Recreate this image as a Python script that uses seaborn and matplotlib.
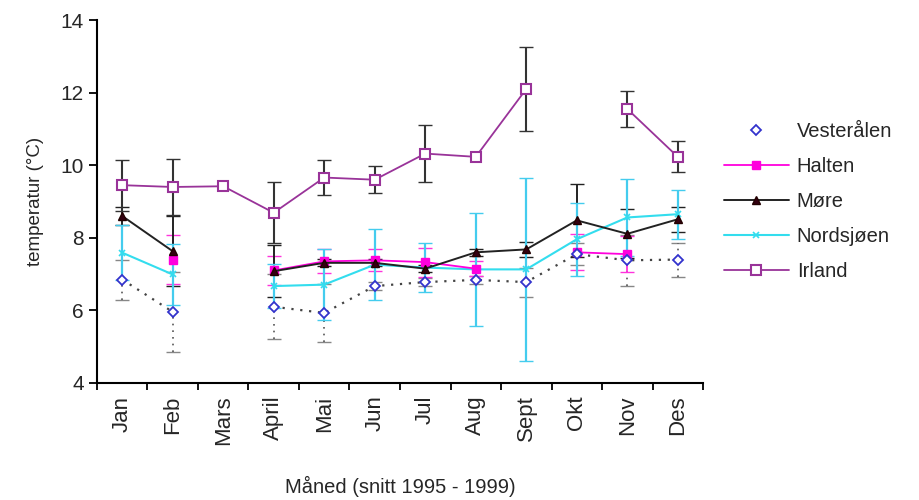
import matplotlib.pyplot as plt
import numpy as np
import seaborn as sns

nan = np.nan

months = ["Jan", "Feb", "Mars", "April", "Mai", "Jun", "Jul", "Aug", "Sept", "Okt", "Nov", "Des"]

vesteralen = [6.85, 5.96, nan, 6.10, 5.93, 6.67, 6.78, 6.84, 6.78, 7.55, 7.38, 7.40]
vesteralen_err = [0.55, 1.10, nan, 0.90, 0.80, 0.10, 0.10, 0.10, 0.40, 0.30, 0.70, 0.47]

halten = [nan, 7.40, nan, 7.10, 7.35, 7.38, 7.33, 7.15, nan, 7.60, 7.55, nan]
halten_err = [nan, 0.67, nan, 0.40, 0.33, 0.30, 0.40, 0.20, nan, 0.50, 0.50, nan]

more = [8.60, 7.63, nan, 7.08, 7.31, 7.31, 7.15, 7.60, 7.68, 8.48, 8.11, 8.51]
more_err = [0.25, 0.97, nan, 0.72, 0.10, 0.10, 0.10, 0.10, 0.20, 1.00, 0.67, 0.35]

nordsjoen = [7.59, 6.99, nan, 6.67, 6.71, 7.26, 7.18, 7.13, 7.13, 7.96, 8.56, 8.65]
nordsjoen_err = [0.75, 0.83, nan, 0.60, 0.98, 0.97, 0.68, 1.55, 2.53, 1.00, 1.05, 0.68]

irland = [9.45, 9.40, 9.42, 8.69, 9.66, 9.60, 10.32, 10.23, 12.10, nan, 11.55, 10.23]
irland_err = [0.70, 0.77, nan, 0.84, 0.47, 0.37, 0.79, nan, 1.15, nan, 0.50, 0.43]

sns.set_style("ticks")
plt.rcParams["font.family"] = ["Liberation Sans", "DejaVu Sans"]

fig = plt.figure(figsize=(9.19, 5.0), dpi=100)
ax = fig.add_axes([0.1055, 0.234, 0.6595, 0.726])
x = np.arange(len(months))

# Vesterålen: dotted line and dotted error bars, legend shows marker only
eb = ax.errorbar(x, vesteralen, yerr=vesteralen_err, fmt="none", ecolor="#555555",
                 elinewidth=1.2, capsize=5, zorder=2)
eb[2][0].set_linestyle((0, (1, 3)))
for cap in eb[1]:
    cap.set_alpha(0.7)
ax.plot(x, vesteralen, color="#444444", linestyle=(0, (1, 3)), linewidth=1.6, zorder=2)
ax.plot(x, vesteralen, linestyle="none", marker="D", markersize=5.5, markerfacecolor="white",
        markeredgecolor="#3333cc", markeredgewidth=1.3, zorder=6, label="Vesterålen")

ax.errorbar(x, halten, yerr=halten_err, fmt="none", ecolor="#ff33dd", elinewidth=1.3,
            capsize=5, zorder=3)
ax.plot(x, halten, color="#ff00dd", marker="s", markersize=6, markeredgecolor="#ff00dd",
        linewidth=1.3, zorder=5, label="Halten")

ax.errorbar(x, more, yerr=more_err, fmt="none", ecolor="#222222", elinewidth=1.4,
            capsize=5, zorder=3)
ax.plot(x, more, color="#222222", marker="^", markersize=6, markerfacecolor="#330011",
        markeredgecolor="#220000", linewidth=1.4, zorder=5, label="Møre")

ax.errorbar(x, nordsjoen, yerr=nordsjoen_err, fmt="none", ecolor="#44ccee", elinewidth=1.6,
            capsize=5, zorder=3)
ax.plot(x, nordsjoen, color="#33ddee", marker="x", markersize=4, markeredgewidth=1.2,
        linewidth=1.5, zorder=4, label="Nordsjøen")

ax.errorbar(x, irland, yerr=irland_err, fmt="none", ecolor="#333333", elinewidth=1.5,
            capsize=5, zorder=3)
ax.plot(x, irland, color="#993399", marker="s", markersize=6.5, markerfacecolor="white",
        markeredgecolor="#993399", markeredgewidth=1.5, linewidth=1.3, zorder=6, label="Irland")

ax.set_xlim(-0.5, len(months) - 0.5)
ax.set_ylim(4, 14)
ax.set_yticks([4, 6, 8, 10, 12, 14])
ax.set_xticks(np.arange(-0.5, len(months)), labels=[])
ax.set_xticks(x, labels=months, minor=True, rotation=90)
ax.tick_params(axis="x", which="minor", length=0, labelsize=16, pad=9)
ax.tick_params(axis="x", which="major", length=5, width=1.3, direction="out", color="black")
ax.tick_params(axis="y", labelsize=15, length=6, width=1.3, direction="out", color="black")
for side in ["left", "bottom"]:
    ax.spines[side].set_linewidth(1.5)
    ax.spines[side].set_color("black")
sns.despine(ax=ax)

ax.set_ylabel("temperatur (°C)", fontsize=13.5, labelpad=12)
ax.set_xlabel("Måned (snitt 1995 - 1999)", fontsize=14.5, labelpad=22)

ax.legend(loc="upper left", bbox_to_anchor=(1.005, 0.77), frameon=False, fontsize=14.5,
          handlelength=3.2, labelspacing=0.8, handletextpad=0.4)

fig.savefig("out.png", dpi=100)
